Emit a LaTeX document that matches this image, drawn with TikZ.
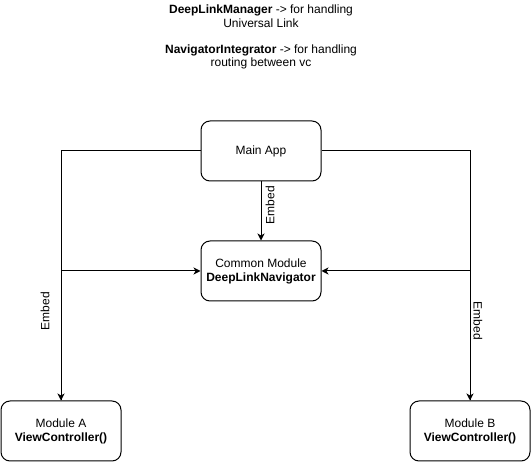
\documentclass[tikz,border=0pt]{standalone}
\usepackage{fontspec}
\setmainfont{Liberation Sans}
\usetikzlibrary{arrows.meta}
\begin{document}
\begin{tikzpicture}[x=1pt,y=-1pt,
  box/.style={draw, line width=1pt, rounded corners=9pt, minimum width=120pt, minimum height=60pt, align=center, inner sep=0pt, font=\fontsize{12pt}{14pt}\selectfont},
  arr/.style={line width=1pt, -{Stealth[length=7pt,width=7pt,inset=2pt]}},
  lbl/.style={font=\fontsize{12pt}{14pt}\selectfont, inner sep=0pt},
  txt/.style={font=\fontsize{12pt}{13.5pt}\selectfont, align=center, inner sep=0pt}]
\useasboundingbox (0,0) rectangle (531,462);
\node[txt] (t1) at (261,16) {\textbf{DeepLinkManager} -> for handling\\Universal Link};
\node[txt] (t2) at (261,57) {\textbf{NavigatorIntegrator} -> for handling\\routing between vc};
\node[box] (main) at (261,151) {Main App};
\node[box] (common) at (261,271) {Common Module\\\textbf{DeepLinkNavigator}};
\node[box] (modA) at (61,431) {Module A\\\textbf{ViewController()}};
\node[box] (modB) at (470,431) {Module B\\\textbf{ViewController()}};
\draw[arr] (main.south) -- (common.north);
\draw[arr] (main.west) -| (modA.north);
\draw[arr] (main.east) -| (modB.north);
\draw[arr] (modA.north) |- (common.west);
\draw[arr] (modB.north) |- (common.east);
\node[lbl, rotate=90] (e1) at (270,205) {Embed};
\node[lbl, rotate=90] (e2) at (45,311) {Embed};
\node[lbl, rotate=-90] (e3) at (478,321) {Embed};
\end{tikzpicture}
\end{document}
